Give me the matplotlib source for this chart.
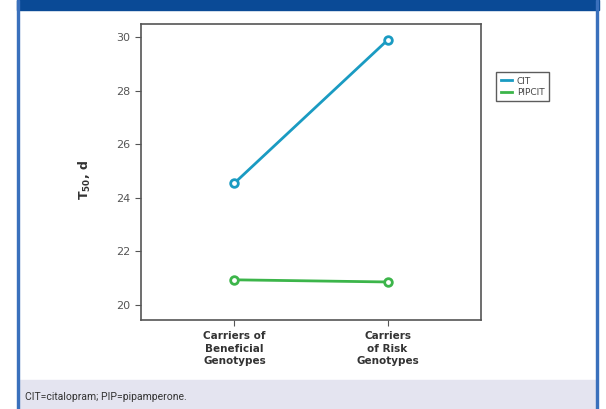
import matplotlib.pyplot as plt
from matplotlib.patches import Rectangle
from matplotlib.lines import Line2D

categories = ['Carriers of\nBeneficial\nGenotypes', 'Carriers\nof Risk\nGenotypes']
cit = [24.55, 29.89]
pipcit = [20.94, 20.86]
series_names = ['CIT', 'PIPCIT']
footnote = 'CIT=citalopram; PIP=pipamperone.'

W, H = 606, 409
fig = plt.figure(figsize=(W / 100, H / 100), dpi=100)

# outer frame: blue header bar, side borders, lavender footer
blue = '#0a4a96'
fig.patches.append(Rectangle((17 / W, 1 - 10 / H), 582 / W, 10 / H, transform=fig.transFigure,
                             color=blue, zorder=0))
fig.patches.append(Rectangle((19 / W, 0), 577 / W, 29 / H, transform=fig.transFigure,
                             color='#e4e4f0', zorder=0))
fig.patches.append(Rectangle((17 / W, 0), 1.5 / W, 1, transform=fig.transFigure, color='#3a70bc', zorder=1))
fig.patches.append(Rectangle((596 / W, 0), 2 / W, 1, transform=fig.transFigure, color='#3a70bc', zorder=1))
fig.text(25 / W, 1 - 397 / H, footnote, fontsize=7.5, family=['Roboto', 'DejaVu Sans'],
         color='#333333', va='center', ha='left')

ax = fig.add_axes([141 / W, 1 - 320 / H, 340 / W, 296 / H])
x = [0, 1]
ax.plot(x, cit, color='#1a9bc2', lw=2, marker='o', ms=5.5, mfc='white', mew=2, label=series_names[0])
ax.plot(x, pipcit, color='#3cb54a', lw=2, marker='o', ms=5.5, mfc='white', mew=2, label=series_names[1])

ax.set_xlim(-0.61, 1.61)
ax.set_ylim(19.44, 30.49)
ax.set_yticks([20, 22, 24, 26, 28, 30])
ax.set_xticks(x)
ax.set_xticklabels(categories, fontsize=7.5, fontweight='bold', linespacing=1.3)
ax.tick_params(axis='y', labelsize=8, colors='#555555', length=4)
ax.tick_params(axis='x', length=4, colors='#555555', pad=4)
for lab in ax.get_xticklabels():
    lab.set_color('#333333')
for s in ax.spines.values():
    s.set_color('#555555')
    s.set_linewidth(1.2)

fig.text(85 / W, 1 - 180 / H, r'$\mathbf{T_{50}}$, d', rotation=90, fontsize=9, fontweight='bold',
         color='#333333', ha='center', va='center')

handles = [Line2D([], [], color='#1a9bc2', lw=2), Line2D([], [], color='#3cb54a', lw=2)]
leg = fig.legend(handles, series_names, loc='upper left', bbox_to_anchor=(496 / W, 1 - 72 / H),
                 fontsize=6.5, frameon=True, fancybox=False, handlelength=1.3, handletextpad=0.5,
                 borderpad=0.5, labelspacing=0.25, borderaxespad=0)
leg.get_frame().set_edgecolor('#333333')
leg.get_frame().set_linewidth(1)
for t in leg.get_texts():
    t.set_color('#444444')

fig.savefig('out.png', dpi=100)
